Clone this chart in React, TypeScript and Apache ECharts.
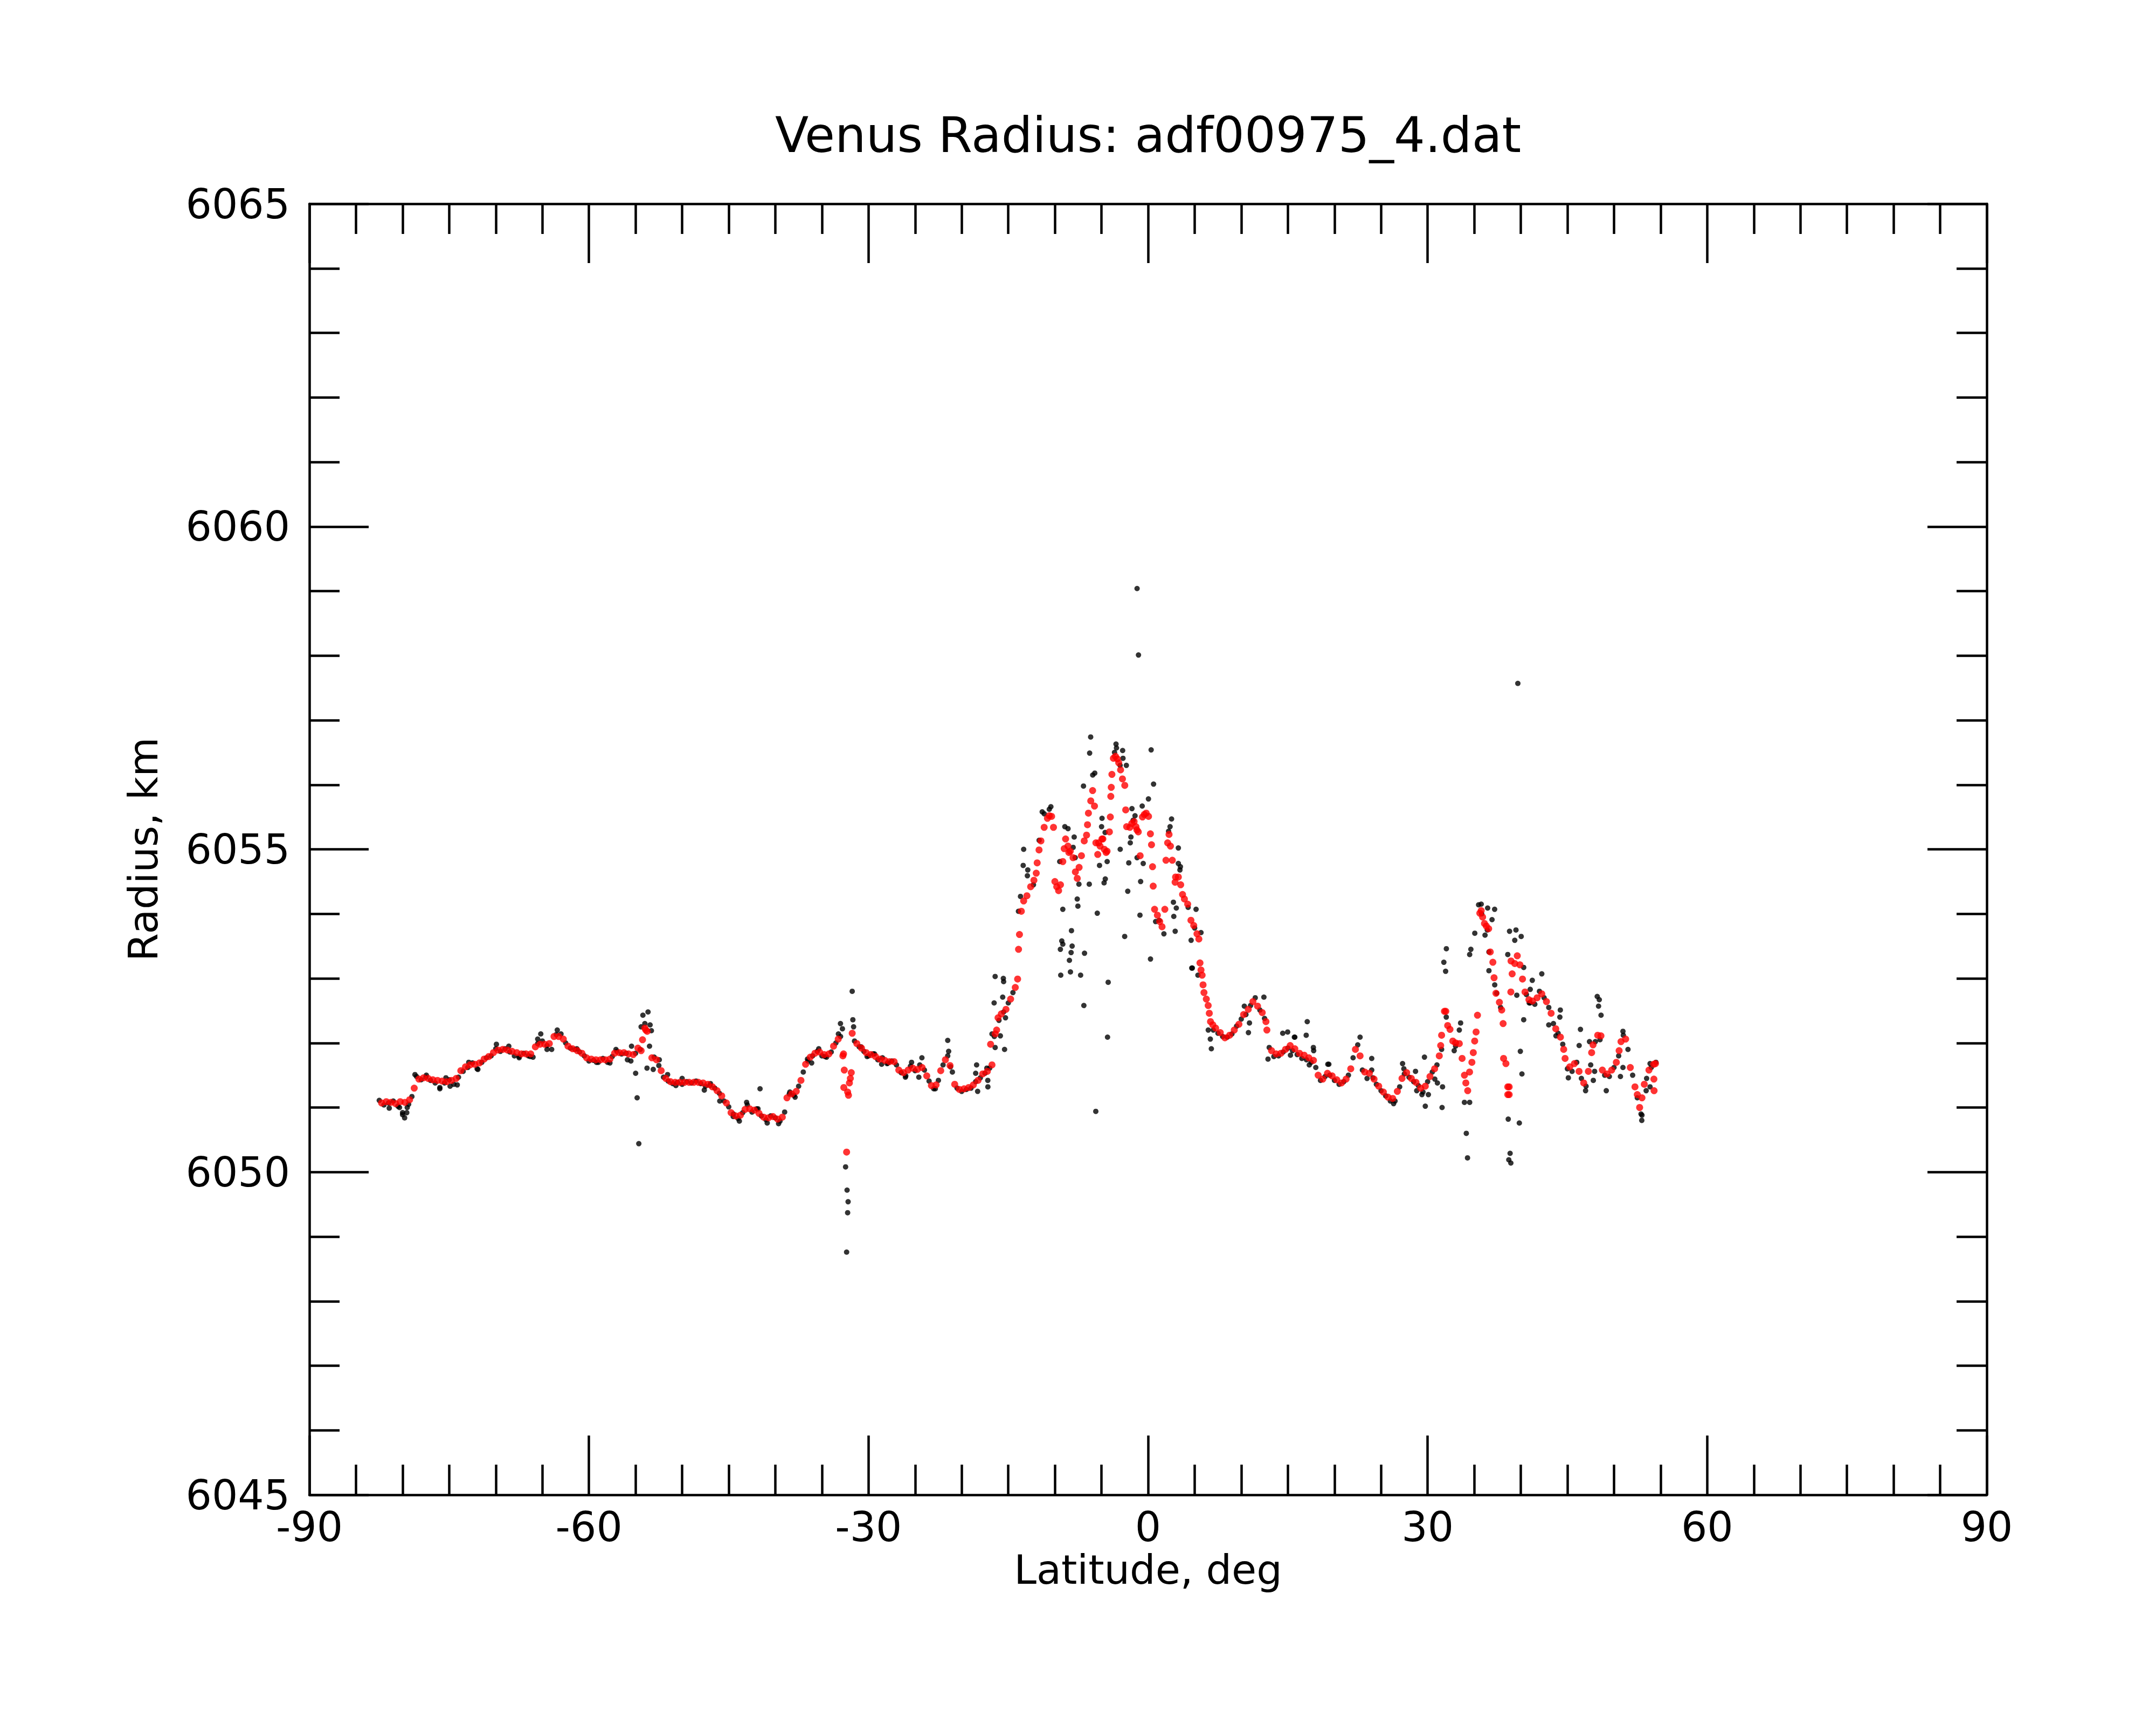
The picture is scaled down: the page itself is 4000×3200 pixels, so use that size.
import React, { useEffect, useRef } from "react";
import * as echarts from "echarts";

// ---------- data (latitude in deg, radius in km) ----------
const STEP = 0.5;

// filtered (red) profile, regular latitude steps
const redSouthStart = -82.25;
const redSouth = [
  6051.07, 6051.09, 6051.08, 6051.06, 6051.09, 6051.08, 6051.12, 6051.30, 6051.44, 6051.46,
  6051.45, 6051.43, 6051.42, 6051.41, 6051.40, 6051.42, 6051.45, 6051.57, 6051.63, 6051.66,
  6051.67, 6051.69, 6051.75, 6051.79, 6051.85, 6051.89, 6051.90, 6051.89, 6051.87, 6051.85,
  6051.83, 6051.83, 6051.83, 6051.94, 6051.98, 6051.98, 6051.99, 6052.10, 6052.10, 6052.06,
  6051.95, 6051.91, 6051.88, 6051.84, 6051.77, 6051.75, 6051.74, 6051.74, 6051.74, 6051.75,
  6051.84, 6051.85, 6051.85, 6051.83, 6051.82, 6051.92, 6052.05, 6052.18, 6051.77, 6051.74,
  6051.57, 6051.45, 6051.40, 6051.39, 6051.39, 6051.39, 6051.39, 6051.39, 6051.39, 6051.38,
  6051.36, 6051.32, 6051.26, 6051.18, 6051.07, 6050.92, 6050.87, 6050.88, 6050.97, 6050.98,
  6050.96, 6050.91, 6050.85, 6050.84, 6050.86, 6050.82, 6050.85, 6051.15, 6051.21, 6051.25,
  6051.42, 6051.67, 6051.78, 6051.84, 6051.86, 6051.82, 6051.83, 6051.95, 6052.06, 6051.80,
];
const redMidStart = -31.75;
const redMid = [
  6052.15, 6051.99, 6051.92, 6051.85, 6051.82, 6051.79, 6051.75, 6051.73, 6051.71, 6051.71,
  6051.58, 6051.54, 6051.58, 6051.61, 6051.59, 6051.62, 6051.49, 6051.34, 6051.35, 6051.57,
  6051.74, 6051.65, 6051.36, 6051.28, 6051.29, 6051.31, 6051.35, 6051.42, 6051.52, 6051.56,
  6051.66, 6052.20, 6052.45, 6052.52, 6052.68, 6052.86,
];
const redNorthStart = 7.25;
const redNorth = [
  6052.23, 6052.16, 6052.08, 6052.12, 6052.20, 6052.29, 6052.44, 6052.52, 6052.64, 6052.57,
  6052.47, 6052.20, 6051.88, 6051.83, 6051.84, 6051.90, 6051.96, 6051.91, 6051.84, 6051.81,
  6051.77, 6051.73, 6051.50, 6051.44, 6051.53, 6051.49, 6051.43, 6051.38, 6051.44, 6051.60,
  6051.90, 6051.80, 6051.55, 6051.53, 6051.44, 6051.33, 6051.24, 6051.16, 6051.14, 6051.25,
  6051.45, 6051.54, 6051.45, 6051.39, 6051.30, 6051.33, 6051.48, 6051.60, 6051.80,
];
const redFarStart = 41.25;
const redFar = [
  6052.65, 6052.70, 6052.76, 6052.64, 6052.46, 6052.22, 6052.09, 6051.76, 6051.63, 6051.68,
  6051.56, 6051.38, 6051.56, 6051.97, 6052.12, 6051.58, 6051.52, 6051.58, 6051.70, 6052.02,
  6052.06, 6051.62, 6051.32, 6051.00, 6051.36, 6051.58, 6051.67,
];

// filtered (red) points read individually in the irregular stretches
const redSpikes: number[][] = [
  [-54.4, 6051.88], [-54.0, 6052.23], [-53.9, 6052.20],
  [-32.68, 6051.83], [-32.6, 6051.58], [-32.65, 6051.31], [-32.35, 6050.31], [-32.24, 6051.24],
  [-32.15, 6051.19], [-32.05, 6051.38], [-31.95, 6051.45], [-31.85, 6051.54],
  [-16.9, 6051.98], [-16.4, 6052.14], [-16.1, 6052.39],
];
const redPeak: number[][] = [
  [-14.0, 6052.99], [-13.9, 6053.45], [-13.8, 6053.68], [-13.6, 6054.04], [-13.35, 6054.2],
  [-13.0, 6054.28], [-12.6, 6054.42], [-12.25, 6054.52], [-12.0, 6054.63], [-11.9, 6054.79],
  [-11.7, 6054.99], [-11.5, 6055.13], [-11.15, 6055.34], [-10.8, 6055.48], [-10.6, 6055.52],
  [-10.35, 6055.51], [-10.15, 6055.34], [-10.0, 6054.5], [-9.8, 6054.42], [-9.6, 6054.36],
  [-9.4, 6054.45], [-9.15, 6054.81], [-8.85, 6055.16], [-8.6, 6055.05], [-8.35, 6054.97],
  [-8.05, 6054.87], [-7.8, 6054.65], [-7.4, 6054.72], [-7.15, 6054.9], [-6.85, 6055.13],
  [-6.6, 6055.22], [-6.5, 6055.38], [-6.4, 6055.56], [-6.15, 6055.75], [-5.95, 6055.91],
  [-5.75, 6055.67], [-5.6, 6055.1], [-5.4, 6054.92], [-5.15, 6055.05], [-4.95, 6055.16],
  [-4.7, 6055.0], [-4.4, 6054.97], [-4.15, 6055.27], [-4.05, 6055.5], [-4.0, 6055.82],
  [-3.95, 6055.96], [-3.88, 6056.16], [-3.72, 6056.41], [-3.5, 6056.44], [-3.3, 6056.4],
  [-3.15, 6056.34], [-2.95, 6056.23], [-2.75, 6056.09], [-2.5, 6055.99], [-2.4, 6055.61],
  [-2.3, 6055.35], [-1.95, 6055.34], [-1.75, 6055.4], [-1.5, 6055.43], [-1.3, 6055.35],
  [-1.05, 6055.27], [-0.85, 6054.9], [-0.4, 6055.54], [-0.2, 6055.56], [0.05, 6055.51],
  [0.25, 6055.24], [0.37, 6055.07], [0.48, 6054.73], [0.55, 6054.43], [0.7, 6054.07],
  [1.0, 6053.98], [1.25, 6053.88], [1.5, 6053.8], [1.8, 6054.07], [1.92, 6054.83],
  [2.1, 6055.1], [2.25, 6055.23], [2.4, 6055.05], [2.6, 6054.83], [2.9, 6054.49],
  [3.25, 6054.57], [3.5, 6054.45], [3.7, 6054.3], [3.9, 6054.23], [4.25, 6054.15],
  [4.6, 6053.9], [4.9, 6053.82], [5.25, 6053.69], [5.45, 6053.61], [5.57, 6053.24],
  [5.68, 6053.13], [5.8, 6053.05], [5.9, 6052.9], [6.0, 6052.78], [6.25, 6052.68],
  [6.45, 6052.58], [6.57, 6052.46], [6.7, 6052.33], [6.95, 6052.28],
  [-9.0, 6055.01], [-8.5, 6054.95], [-7.6, 6054.55], [-5.3, 6055.1], [-4.85, 6055.16],
  [-4.5, 6054.95], [-1.2, 6055.3], [-0.6, 6055.5], [2.95, 6054.57], [12.65, 6052.33],
];
const redNorthPeak: number[][] = [
  [31.4, 6051.96], [31.5, 6052.12], [31.8, 6052.49], [31.95, 6052.49], [32.15, 6052.27],
  [32.4, 6052.21], [32.7, 6052.03], [33.0, 6052.0], [33.4, 6051.99], [33.7, 6051.76],
  [33.95, 6051.5], [34.1, 6051.38], [34.3, 6051.26], [34.5, 6051.55], [34.75, 6051.7],
  [34.9, 6051.85], [35.05, 6052.03], [35.2, 6052.17], [35.35, 6052.43], [35.6, 6054.01],
  [35.75, 6054.05], [35.9, 6053.95], [36.1, 6053.85], [36.3, 6053.81], [36.55, 6053.77],
  [36.72, 6053.41], [37.0, 6053.25], [37.13, 6053.01], [37.33, 6052.77], [37.7, 6052.63],
  [37.95, 6052.51], [38.1, 6052.30], [38.15, 6051.76], [38.4, 6051.68], [38.6, 6051.32],
  [38.75, 6051.32], [38.6, 6051.2], [38.75, 6051.2], [38.95, 6053.27], [39.07, 6053.07],
  [38.93, 6052.79], [39.35, 6053.23], [39.62, 6053.35], [39.9, 6053.21], [40.18, 6052.99],
  [40.45, 6052.79], [40.87, 6052.67],
  [44.6, 6051.9], [47.6, 6051.85], [48.6, 6052.11], [50.55, 6051.88], [52.5, 6051.2],
  [53.0, 6051.15], [54.28, 6051.44], [54.3, 6051.26], [54.45, 6051.68],
];

// raw (black) profile, regular latitude steps
const blackSouthStart = -82.5;
const blackSouth = [
  6051.11, 6051.04, 6051.07, 6051.10, 6051.02, 6050.92, 6051.00, 6051.17, 6051.48, 6051.43,
  6051.47, 6051.42, 6051.38, 6051.31, 6051.38, 6051.43, 6051.36, 6051.47, 6051.56, 6051.62,
  6051.69, 6051.60, 6051.70, 6051.77, 6051.80, 6051.91, 6051.87, 6051.91, 6051.86, 6051.80,
  6051.79, 6051.84, 6051.80, 6051.78, 6051.99, 6052.03, 6051.96, 6051.90, 6052.13, 6052.14,
  6052.00, 6051.92, 6051.90, 6051.86, 6051.80, 6051.72, 6051.73, 6051.70, 6051.76, 6051.70,
  6051.79, 6051.87, 6051.83, 6051.84, 6051.72, 6051.84, 6051.90, 6052.30, 6051.95, 6051.78,
  6051.65, 6051.47, 6051.41, 6051.37, 6051.39, 6051.36, 6051.40, 6051.38, 6051.41, 6051.37,
  6051.33, 6051.34, 6051.30, 6051.22, 6051.10, 6051.01, 6050.90, 6050.83, 6050.92, 6051.04,
  6050.93, 6050.98, 6050.87, 6050.81, 6050.87, 6050.84, 6050.79, 6050.93, 6051.21, 6051.19,
  6051.33, 6051.55, 6051.72, 6051.80, 6051.87, 6051.80, 6051.78, 6051.86, 6052.00, 6052.10,
];
const blackMidStart = -31.5;
const blackMid = [
  6052.03, 6051.94, 6051.87, 6051.80, 6051.83, 6051.74, 6051.77, 6051.68, 6051.72, 6051.66,
  6051.54, 6051.49, 6051.64, 6051.57, 6051.66, 6051.58, 6051.41, 6051.29, 6051.42, 6051.66,
  6051.80, 6051.55, 6051.30, 6051.25, 6051.28, 6051.30, 6051.40, 6051.46, 6051.53, 6051.61,
  6052.10, 6052.35, 6052.48, 6052.62, 6052.78,
];
const blackNorthStart = 7.0;
const blackNorth = [
  6052.20, 6052.15, 6052.10, 6052.09, 6052.14, 6052.26, 6052.37, 6052.44, 6052.58, 6052.70,
  6052.51, 6052.38, 6051.93, 6051.79, 6051.80, 6051.86, 6051.92, 6051.88, 6051.82, 6051.76,
  6051.74, 6051.70, 6051.62, 6051.42, 6051.48, 6051.50, 6051.42, 6051.36, 6051.40, 6051.50,
  6051.77, 6051.97, 6051.58, 6051.45, 6051.58, 6051.36, 6051.26, 6051.18, 6051.10, 6051.10,
  6051.32, 6051.52, 6051.47, 6051.40, 6051.34, 6051.24, 6051.40, 6051.55, 6051.66,
];
const blackFarStart = 41.0;
const blackFar = [
  6052.62, 6052.60, 6052.80, 6052.70, 6052.55, 6052.30, 6052.15, 6051.98, 6051.60, 6051.56,
  6051.70, 6051.45, 6051.33, 6051.66, 6052.02, 6052.05, 6051.50, 6051.48, 6051.62, 6051.80,
  6052.12, 6051.90, 6051.50, 6051.15, 6050.88, 6051.45, 6051.62, 6051.70,
];

// raw (black) scattered points
const blackSouthScatter: number[][] = [
  [-81.43, 6050.99], [-80.33, 6051.0], [-80.0, 6050.89], [-79.78, 6050.84], [-79.55, 6050.92],
  [-79.35, 6051.05], [-78.67, 6051.51], [-77.45, 6051.50], [-76.0, 6051.29], [-74.9, 6051.33],
  [-75.35, 6051.46], [-74.13, 6051.35], [-72.9, 6051.70], [-71.92, 6051.59], [-69.93, 6051.98],
  [-68.6, 6051.95], [-67.49, 6051.77], [-66.3, 6051.79], [-65.17, 6052.14], [-65.5, 6052.06],
  [-64.5, 6051.9], [-63.4, 6052.2], [-61.3, 6051.91], [-59.19, 6051.70], [-57.75, 6051.69],
  [-57.1, 6051.90], [-55.87, 6051.74], [-55.43, 6051.95], [-54.99, 6051.53], [-54.83, 6051.15],
  [-54.65, 6050.44], [-54.21, 6052.43], [-53.66, 6052.48], [-53.44, 6052.28], [-53.3, 6052.19],
  [-54.4, 6052.25], [-53.77, 6051.61], [-53.1, 6051.59], [-52.45, 6051.74], [-51.56, 6051.51],
  [-50.67, 6051.34], [-50.0, 6051.45],
  [-47.62, 6051.27], [-46.96, 6051.37], [-45.96, 6051.10], [-44.52, 6050.86], [-43.86, 6050.79],
  [-43.08, 6051.08], [-41.86, 6050.98], [-41.64, 6051.29], [-40.87, 6050.76], [-39.65, 6050.75],
  [-38.44, 6051.24], [-37.88, 6051.16], [-36.55, 6051.75], [-36.1, 6051.69], [-35.34, 6051.91],
  [-34.67, 6051.79], [-33.23, 6052.14], [-33.01, 6052.30], [-32.8, 6052.22],
  [-31.75, 6052.80], [-31.68, 6052.36], [-31.6, 6052.25], [-32.46, 6050.08], [-32.3, 6049.72],
  [-32.19, 6049.54], [-32.24, 6049.37], [-32.35, 6048.76],
  [-30.8, 6051.94], [-30.15, 6051.79], [-29.36, 6051.83], [-28.59, 6051.67], [-27.92, 6051.69],
  [-26.04, 6051.47], [-25.38, 6051.70], [-24.6, 6051.47], [-24.27, 6051.77], [-22.83, 6051.29],
  [-21.5, 6052.04], [-21.4, 6051.87], [-21.2, 6051.63], [-18.4, 6051.66], [-18.5, 6051.53],
  [-18.29, 6051.25], [-17.3, 6051.61], [-17.19, 6051.32], [-17.2, 6051.42],
  [-16.41, 6053.03], [-15.53, 6053.0], [-15.5, 6052.95], [-16.52, 6052.62], [-15.6, 6052.71],
  [-15.3, 6052.39], [-16.75, 6052.14], [-15.85, 6052.11], [-16.41, 6051.93], [-15.4, 6051.9],
];
const blackPeakScatter: number[][] = [
  [-1.18, 6059.04], [-1.03, 6058.01],
  [-6.16, 6056.74], [-6.27, 6056.49], [0.33, 6056.54], [0.59, 6056.01], [-6.93, 6055.98],
  [-5.94, 6056.15], [-5.72, 6056.18], [-10.43, 6055.66], [-11.14, 6055.55], [-13.35, 6055.0],
  [-13.4, 6054.75], [-12.91, 6054.68], [-12.95, 6054.59], [-13.69, 6054.27], [-13.91, 6054.04],
  [-9.15, 6054.07], [-8.93, 6055.35], [-8.59, 6055.32], [-7.93, 6055.19], [-8.04, 6055.03],
  [-9.48, 6054.81], [-7.82, 6054.87], [-7.42, 6054.46], [-6.31, 6054.46], [-7.6, 6054.23],
  [-7.53, 6054.12], [-5.45, 6054.01], [-8.22, 6053.74], [-9.26, 6053.58], [-9.15, 6053.53],
  [-8.15, 6053.5], [-9.41, 6053.45], [-8.26, 6053.40], [-6.82, 6053.39], [-8.44, 6053.28],
  [-9.37, 6053.05], [-8.33, 6053.10], [-7.24, 6053.05], [-4.28, 6052.94], [-4.94, 6055.48],
  [-4.99, 6055.35], [-4.61, 6055.26], [-4.39, 6054.81], [-5.21, 6054.75], [-4.59, 6054.54],
  [-4.72, 6054.48], [-2.99, 6055.0], [-2.07, 6054.79], [-2.18, 6054.35], [-1.91, 6055.10],
  [-1.84, 6055.19], [-1.4, 6055.52], [-1.73, 6055.63], [-0.63, 6055.67], [0.04, 6055.78],
  [-1.18, 6054.87], [-0.52, 6054.78], [-0.8, 6054.5], [-2.51, 6053.65], [-0.87, 6053.98],
  [0.26, 6053.30], [-2.73, 6056.53], [-2.69, 6056.41], [-2.33, 6056.30], [-3.44, 6056.63],
  [-3.39, 6056.57], [2.52, 6055.47], [2.36, 6055.35], [3.25, 6055.02], [3.25, 6054.78],
  [3.47, 6054.73], [3.42, 6054.68], [2.72, 6054.18], [3.03, 6054.09], [2.76, 6053.96],
  [2.91, 6053.73], [0.81, 6053.88], [1.7, 6053.69], [4.75, 6053.16], [4.62, 6053.59],
  [5.15, 6054.07], [5.68, 6053.71], [5.35, 6053.05], [-11.36, 6055.58], [-11.69, 6055.14],
  [-6.89, 6052.58], [-4.35, 6052.09], [-5.61, 6050.94], [4.69, 6053.16], [6.68, 6052.06],
  [6.79, 6051.91], [6.46, 6052.2], [-12.3, 6054.45], [-10.6, 6055.62], [-3.6, 6056.5],
  [-3.0, 6056.3], [-1.6, 6055.45], [1.2, 6053.9], [2.2, 6055.28], [4.3, 6054.1], [5.0, 6053.78],
];
const blackNorthScatter: number[][] = [
  [10.77, 6052.16], [12.43, 6052.71], [17.08, 6052.33], [16.97, 6052.12], [12.87, 6051.75],
  [17.3, 6051.66], [10.88, 6052.31], [10.33, 6052.57], [14.98, 6052.17], [15.75, 6052.09],
  [17.74, 6051.93], [19.4, 6051.67], [14.45, 6052.15], [15.28, 6051.81], [17.77, 6051.88],
  [15.7, 6052.09], [22.75, 6052.09], [19.29, 6051.67], [24.0, 6051.76], [27.31, 6051.68],
  [28.7, 6051.56], [29.66, 6051.78], [29.75, 6051.02], [29.39, 6051.20], [30.08, 6051.20],
  [24.13, 6051.46], [26.35, 6051.06], [27.45, 6051.60], [28.83, 6051.26], [30.77, 6051.44],
  [31.05, 6051.38],
  [32.01, 6053.46], [31.74, 6053.25], [31.93, 6053.11], [33.54, 6052.31], [33.4, 6052.20],
  [32.85, 6051.88], [31.6, 6051.32], [31.55, 6051.0], [34.15, 6050.60], [34.28, 6050.22],
  [33.95, 6051.08], [34.51, 6051.08], [34.64, 6053.45], [34.51, 6053.37], [35.06, 6053.70],
  [35.75, 6054.15], [35.47, 6054.14], [36.44, 6054.09], [37.19, 6054.07], [36.91, 6053.91],
  [36.16, 6053.67], [36.58, 6053.12], [36.58, 6053.41], [37.41, 6052.77], [37.83, 6052.55],
  [38.6, 6053.37], [38.79, 6053.73], [39.48, 6053.75], [40.04, 6053.65], [39.35, 6053.59],
  [40.31, 6053.17], [39.57, 6052.74], [40.31, 6052.36], [39.95, 6051.87], [40.12, 6051.52],
  [38.65, 6050.82], [39.84, 6050.76], [38.85, 6050.29], [38.71, 6050.19], [38.93, 6050.14],
  [39.68, 6057.57],
  [31.5, 6051.9], [32.0, 6052.4], [33.0, 6051.95], [35.8, 6054.0], [36.4, 6053.75],
  [37.2, 6052.9], [40.6, 6052.75], [40.9, 6052.62],
  [42.25, 6053.07], [41.23, 6052.97], [41.01, 6052.83], [44.24, 6052.51], [44.19, 6052.40],
  [43.0, 6052.28], [43.77, 6052.11], [45.1, 6051.46], [46.4, 6052.21], [46.26, 6051.96],
  [48.2, 6052.72], [48.42, 6052.67], [48.34, 6052.57], [48.61, 6052.43], [47.37, 6052.02],
  [47.92, 6051.56], [47.78, 6051.42], [46.95, 6051.26], [49.17, 6051.26], [50.69, 6051.48],
  [50.96, 6052.18], [52.98, 6050.80], [52.9, 6050.90], [53.87, 6051.68], [53.87, 6051.32],
  [53.45, 6051.26], [50.96, 6051.62],
];

// axis ticks
const xMin = -90;
const xMax = 90;
const xStep = 30;
const yMin = 6045;
const yMax = 6065;
const yStep = 5;

const TITLE = "Venus Radius: adf00975_4.dat";
const X_NAME = "Latitude, deg";
const Y_NAME = "Radius, km";

function track(start: number, values: number[]): number[][] {
  return values.map((v, i) => [start + i * STEP, v]);
}

export default function App() {
  const ref = useRef<HTMLDivElement>(null);

  useEffect(() => {
    document.body.style.margin = "0";
    const el = ref.current;
    if (!el) return;
    const chart = echarts.init(el, null, { renderer: "svg" });
    const font = "DejaVu Sans";
    const lineW = 4.5;

    const red = [
      ...track(redSouthStart, redSouth),
      ...track(redMidStart, redMid),
      ...track(redNorthStart, redNorth),
      ...track(redFarStart, redFar),
      ...redSpikes,
      ...redPeak,
      ...redNorthPeak,
    ];
    const black = [
      ...track(blackSouthStart, blackSouth),
      ...track(blackMidStart, blackMid),
      ...track(blackNorthStart, blackNorth),
      ...track(blackFarStart, blackFar),
      ...blackSouthScatter,
      ...blackPeakScatter,
      ...blackNorthScatter,
    ];

    const axisBase = (showLabel: boolean) => ({
      type: "value" as const,
      axisLine: { show: true, onZero: false, lineStyle: { color: "#000", width: lineW } },
      axisTick: { show: true, inside: true, lineStyle: { color: "#000", width: lineW } },
      minorTick: { show: true, lineStyle: { color: "#000", width: lineW } },
      splitLine: { show: false },
      minorSplitLine: { show: false },
      axisLabel: {
        show: showLabel,
        color: "#000",
        fontSize: 76,
        fontFamily: font,
        showMinLabel: true,
        showMaxLabel: true,
        formatter: (v: number) => String(v),
      },
    });

    const xAxis = (pos: "bottom" | "top") => {
      const b = axisBase(pos === "bottom");
      return {
        ...b,
        position: pos,
        min: xMin,
        max: xMax,
        interval: xStep,
        axisTick: { ...b.axisTick, length: 110 },
        minorTick: { ...b.minorTick, splitNumber: 6, length: 56 },
        axisLabel: { ...b.axisLabel, margin: 21 },
        ...(pos === "bottom"
          ? {
              name: X_NAME,
              nameLocation: "middle",
              nameGap: 97,
              nameTextStyle: { color: "#000", fontSize: 75, fontFamily: font },
            }
          : {}),
      };
    };
    const yAxis = (pos: "left" | "right") => {
      const b = axisBase(pos === "left");
      return {
        ...b,
        position: pos,
        min: yMin,
        max: yMax,
        interval: yStep,
        axisTick: { ...b.axisTick, length: 110 },
        minorTick: { ...b.minorTick, splitNumber: 5, length: 56 },
        axisLabel: { ...b.axisLabel, margin: 36 },
        ...(pos === "left"
          ? {
              name: Y_NAME,
              nameLocation: "middle",
              nameGap: 271,
              nameTextStyle: { color: "#000", fontSize: 75, fontFamily: font },
            }
          : {}),
      };
    };

    chart.setOption({
      animation: false,
      backgroundColor: "#fff",
      textStyle: { fontFamily: font },
      grid: { left: 574, top: 378, width: 3112, height: 2395, containLabel: false },
      xAxis: [xAxis("bottom"), xAxis("top")],
      yAxis: [yAxis("left"), yAxis("right")],
      graphic: [
        {
          type: "text",
          x: 2130,
          y: 250,
          style: {
            text: TITLE,
            fill: "#000",
            font: `91px "${font}"`,
            align: "center",
            verticalAlign: "middle",
          },
        },
      ],
      series: [
        {
          type: "scatter",
          name: "raw",
          data: black,
          symbol: "circle",
          symbolSize: 10,
          itemStyle: { color: "#000" },
          silent: true,
          z: 2,
        },
        {
          type: "scatter",
          name: "filtered",
          data: red,
          symbol: "circle",
          symbolSize: 13,
          itemStyle: { color: "#ff0000" },
          silent: true,
          z: 3,
        },
      ],
    });

    return () => chart.dispose();
  }, []);

  return <div ref={ref} style={{ width: 4000, height: 3200 }} />;
}
